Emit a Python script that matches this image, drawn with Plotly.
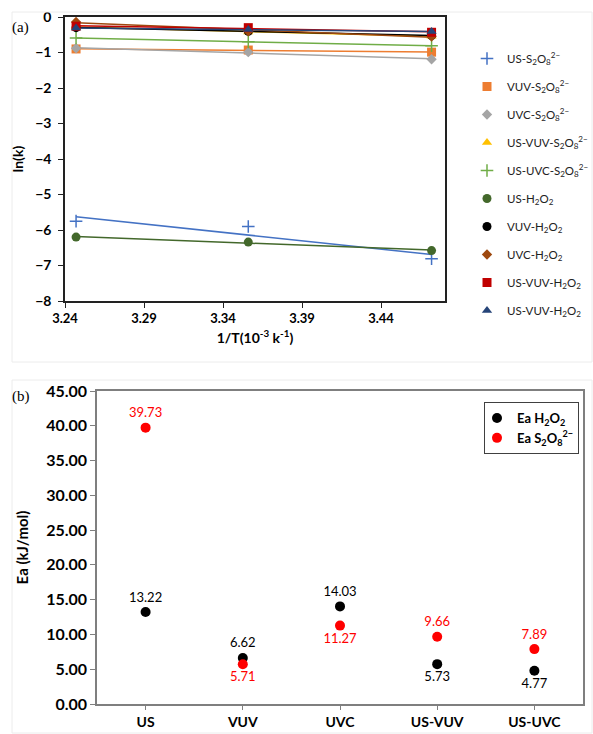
import numpy as np
import plotly.graph_objects as go

W, H = 593, 734

# ---------------- data: panel (a) ----------------
inv_T = [3.247, 3.356, 3.472]
series_names = [
    "US-S<sub>2</sub>O<sub>8</sub><sup>2−</sup>",
    "VUV-S<sub>2</sub>O<sub>8</sub><sup>2−</sup>",
    "UVC-S<sub>2</sub>O<sub>8</sub><sup>2−</sup>",
    "US-VUV-S<sub>2</sub>O<sub>8</sub><sup>2−</sup>",
    "US-UVC-S<sub>2</sub>O<sub>8</sub><sup>2−</sup>",
    "US-H<sub>2</sub>O<sub>2</sub>",
    "VUV-H<sub>2</sub>O<sub>2</sub>",
    "UVC-H<sub>2</sub>O<sub>2</sub>",
    "US-VUV-H<sub>2</sub>O<sub>2</sub>",
    "US-VUV-H<sub>2</sub>O<sub>2</sub>",
]
us_s2o8 = [-5.75, -5.90, -6.81]
vuv_s2o8 = [-0.90, -0.93, -0.99]
uvc_s2o8 = [-0.88, -0.99, -1.19]
us_vuv_s2o8 = [-0.28, -0.42, -0.54]
us_uvc_s2o8 = [-0.59, -0.70, -0.81]
us_h2o2 = [-6.20, -6.34, -6.58]
vuv_h2o2 = [-0.30, -0.40, -0.52]
uvc_h2o2 = [-0.14, -0.40, -0.55]
us_vuv_h2o2 = [-0.26, -0.30, -0.43]
us_vuv_h2o2_b = [-0.31, -0.35, -0.41]
series_values = [us_s2o8, vuv_s2o8, uvc_s2o8, us_vuv_s2o8, us_uvc_s2o8,
                 us_h2o2, vuv_h2o2, uvc_h2o2, us_vuv_h2o2, us_vuv_h2o2_b]
x_ticks_a = [3.24, 3.29, 3.34, 3.39, 3.44]

# ---------------- data: panel (b) ----------------
processes = ["US", "VUV", "UVC", "US-VUV", "US-UVC"]
ea_h2o2 = [13.22, 6.62, 14.03, 5.73, 4.77]
ea_s2o8 = [39.73, 5.71, 11.27, 9.66, 7.89]
h2o2_label_pos = ["top center", "top center", "top center", "bottom center", "bottom center"]
s2o8_label_pos = ["top center", "bottom center", "bottom center", "top center", "top center"]

# ---------------- styles ----------------
colors = ["#4472C4", "#ED7D31", "#A5A5A5", "#FFC000", "#70AD47",
          "#43682B", "#000000", "#9E480E", "#C00000", "#264478"]
symbols = ["cross-thin", "square", "diamond", "triangle-up", "cross-thin",
           "circle", "circle", "diamond", "square", "triangle-up"]
sizes = [9, 9, 8, 9, 9, 9, 9, 8, 9, 9]

FONT = "Lato, 'Open Sans', sans-serif"

def px_x(p):
    return p / W

def px_y(p):
    return 1 - p / H

fig = go.Figure()

# trendlines and markers for panel (a)
for name, vals, c, s, sz in zip(series_names, series_values, colors, symbols, sizes):
    coef = np.polyfit(inv_T, vals, 1)
    xs = [inv_T[0], inv_T[-1]]
    ys = list(np.polyval(coef, xs))
    fig.add_trace(go.Scatter(x=xs, y=ys, mode="lines", line=dict(color=c, width=1.5),
                             showlegend=False, hoverinfo="skip", xaxis="x", yaxis="y"))
for i, (name, vals, c, s, sz) in enumerate(zip(series_names, series_values, colors, symbols, sizes)):
    mk = dict(color=c, symbol=s, size=sz)
    if s == "cross-thin":
        mk["line"] = dict(color=c, width=1.5)
    fig.add_trace(go.Scatter(x=inv_T, y=vals, mode="markers", marker=mk, name=name,
                             legendgroup=f"g{i}", xaxis="x", yaxis="y", legend="legend"))

# panel (b)
fig.add_trace(go.Scatter(x=processes, y=ea_h2o2, mode="markers+text",
                         marker=dict(color="black", size=10),
                         text=[f"{v:.2f}" for v in ea_h2o2], textposition=h2o2_label_pos,
                         textfont=dict(color="black", size=13, family=FONT),
                         name="<b>Ea H<sub>2</sub>O<sub>2</sub></b>",
                         xaxis="x2", yaxis="y2", legend="legend2"))
fig.add_trace(go.Scatter(x=processes, y=ea_s2o8, mode="markers+text",
                         marker=dict(color="#FF0000", size=10),
                         text=[f"{v:.2f}" for v in ea_s2o8], textposition=s2o8_label_pos,
                         textfont=dict(color="#FF0000", size=13, family=FONT),
                         name="<b>Ea S<sub>2</sub>O<sub>8</sub><sup>2−</sup></b>",
                         xaxis="x2", yaxis="y2", legend="legend2"))

fig.update_layout(
    width=W, height=H,
    margin=dict(l=0, r=0, t=0, b=0, autoexpand=False),
    paper_bgcolor="white", plot_bgcolor="white",
    font=dict(family=FONT, color="#000000"),
    xaxis=dict(domain=[px_x(65), px_x(445)], range=[3.24, 3.4805], automargin=False,
               tickvals=x_ticks_a, ticktext=[f"{v:.2f}" for v in x_ticks_a],
               showgrid=False, zeroline=False, showline=True, linecolor="#222222", linewidth=1.5,
               mirror=True, ticks="outside", ticklen=5, tickcolor="#222222",
               tickfont=dict(family=FONT, size=13, color="#000", weight="bold"),
               title=dict(text="<b>1/T(10<sup>-3</sup> k<sup>-1</sup>)</b>", font=dict(family=FONT, size=14),
                          standoff=8),
               anchor="y"),
    yaxis=dict(domain=[px_y(301), px_y(17)], range=[-8, 0], dtick=1, automargin=False,
               showgrid=False, zeroline=False, showline=True, linecolor="#222222", linewidth=1.5,
               mirror=True, ticks="outside", ticklen=5, tickcolor="#222222",
               tickfont=dict(family=FONT, size=14, color="#000", weight="bold"),
               ticklabelstandoff=4,
               title=dict(text="<b>ln(k)</b>", font=dict(family=FONT, size=14), standoff=8),
               anchor="x"),
    xaxis2=dict(domain=[px_x(97), px_x(583)], type="category", range=[-0.5, 4.5], automargin=False,
                showgrid=False, zeroline=False, showline=True, linecolor="#7f7f7f", linewidth=1.5,
                mirror=True, ticks="outside", ticklen=4, tickcolor="#7f7f7f",
                tickfont=dict(family=FONT, size=14, color="#000", weight="bold"),
                ticklabelstandoff=0,
                anchor="y2"),
    yaxis2=dict(domain=[px_y(704), px_y(391)], range=[0, 45], dtick=5, tickformat=".2f",
                automargin=False,
                showgrid=False, zeroline=False, showline=True, linecolor="#7f7f7f", linewidth=1.5,
                mirror=True, ticks="outside", ticklen=5, tickcolor="#7f7f7f",
                tickfont=dict(family=FONT, size=16, color="#000", weight="bold"),
                title=dict(text="<b>Ea (kJ/mol)</b>", font=dict(family=FONT, size=15), standoff=14),
                anchor="x2"),
    legend=dict(x=px_x(477), y=px_y(44), xanchor="left", yanchor="top",
                font=dict(family=FONT, size=11.5, color="#222"),
                indentation=-10,
                tracegroupgap=9, bgcolor="rgba(0,0,0,0)"),
    legend2=dict(x=px_x(484), y=px_y(402), xanchor="left", yanchor="top",
                 font=dict(family=FONT, size=13, color="#000"),
                 bordercolor="#404040", borderwidth=1, bgcolor="white",
                 indentation=-8,
                 tracegroupgap=5),
    shapes=[
        dict(type="rect", xref="paper", yref="paper", x0=px_x(12), x1=px_x(592),
             y0=px_y(362), y1=px_y(12), line=dict(color="#ececec", width=1)),
        dict(type="rect", xref="paper", yref="paper", x0=px_x(12), x1=px_x(592),
             y0=px_y(733), y1=px_y(380), line=dict(color="#ececec", width=1)),
    ],
    annotations=[
        dict(text="(a)", xref="paper", yref="paper", x=px_x(10), y=px_y(27), xanchor="left",
             yanchor="middle", showarrow=False,
             font=dict(family="Liberation Serif, serif", size=15, color="#000")),
        dict(text="(b)", xref="paper", yref="paper", x=px_x(10), y=px_y(396), xanchor="left",
             yanchor="middle", showarrow=False,
             font=dict(family="Liberation Serif, serif", size=15, color="#000")),
    ],
)

fig.write_html("out.html", config={"displayModeBar": False},
               post_script="document.body.style.margin='0';")
